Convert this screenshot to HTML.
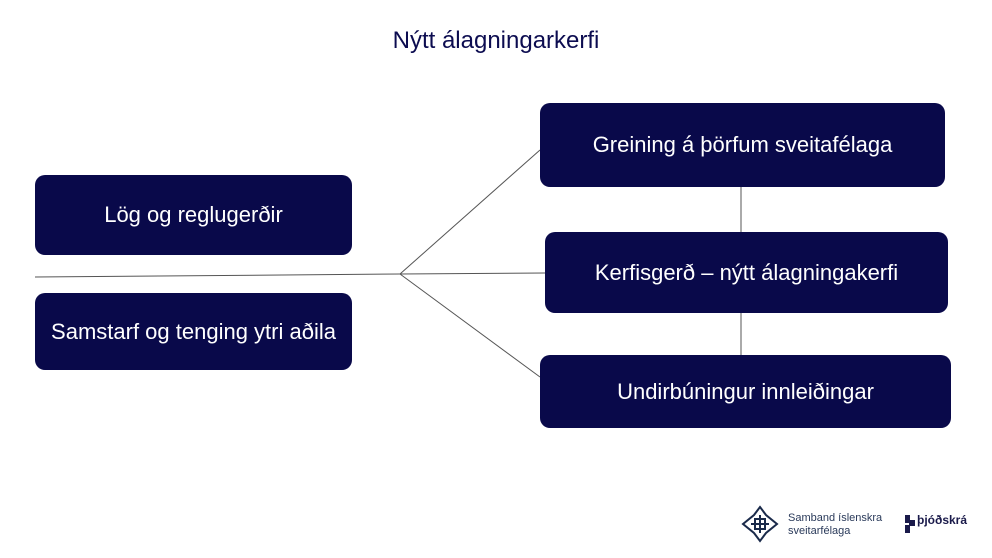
<!DOCTYPE html>
<html><head><meta charset="utf-8"><style>
body{margin:0;width:992px;height:558px;background:#fff;position:relative;overflow:hidden;font-family:"Liberation Sans",sans-serif}
.t{position:absolute;left:0;width:992px;top:27px;text-align:center;font-size:24px;color:#0c0c50}
.b{position:absolute;background:#09094a;border-radius:10px;color:#fff;display:flex;align-items:center;justify-content:center;font-size:22px;white-space:nowrap}
svg{position:absolute;left:0;top:0}
</style></head><body>
<svg width="992" height="558">
<g stroke="#555" stroke-width="1" fill="none">
<line x1="35" y1="277" x2="400" y2="274"/>
<line x1="400" y1="274" x2="545" y2="273"/>
<line x1="400" y1="274" x2="540" y2="150"/>
<line x1="400" y1="274" x2="540" y2="377"/>
<line x1="741" y1="187" x2="741" y2="232"/>
<line x1="741" y1="313" x2="741" y2="355"/>
</g>
<g transform="translate(760,524)" stroke="#1a2a4a" stroke-width="2" fill="none">
<path d="M0,-17 L6,-9 L17,0 L6,9 L0,17 L-6,9 L-17,0 L-6,-9 Z"/>
<path d="M-5,-5 h10 v10 h-10 z M-9,0 h18 M0,-9 v18"/>
</g>
<g transform="translate(905,515)" fill="#1a1a4a"><rect x="0" y="0" width="5" height="8"/><rect x="4" y="5" width="6" height="6"/><rect x="0" y="10" width="5" height="8"/></g>
</svg>
<div class="t">Nýtt álagningarkerfi</div>
<div class="b" style="left:35px;top:175px;width:317px;height:80px">Lög og reglugerðir</div>
<div class="b" style="left:35px;top:293px;width:317px;height:77px">Samstarf og tenging ytri aðila</div>
<div class="b" style="left:540px;top:103px;width:405px;height:84px">Greining á þörfum sveitafélaga</div>
<div class="b" style="left:545px;top:232px;width:403px;height:81px">Kerfisgerð – nýtt álagningakerfi</div>
<div class="b" style="left:540px;top:355px;width:411px;height:73px">Undirbúningur innleiðingar</div>
<div style="position:absolute;left:788px;top:512px;font-size:11px;line-height:13px;color:#2a3a5a">Samband íslenskra<br>sveitarfélaga</div>
<div style="position:absolute;left:917px;top:513px;font-size:12px;font-weight:bold;color:#1a1a4a">þjóðskrá</div>
</body></html>
